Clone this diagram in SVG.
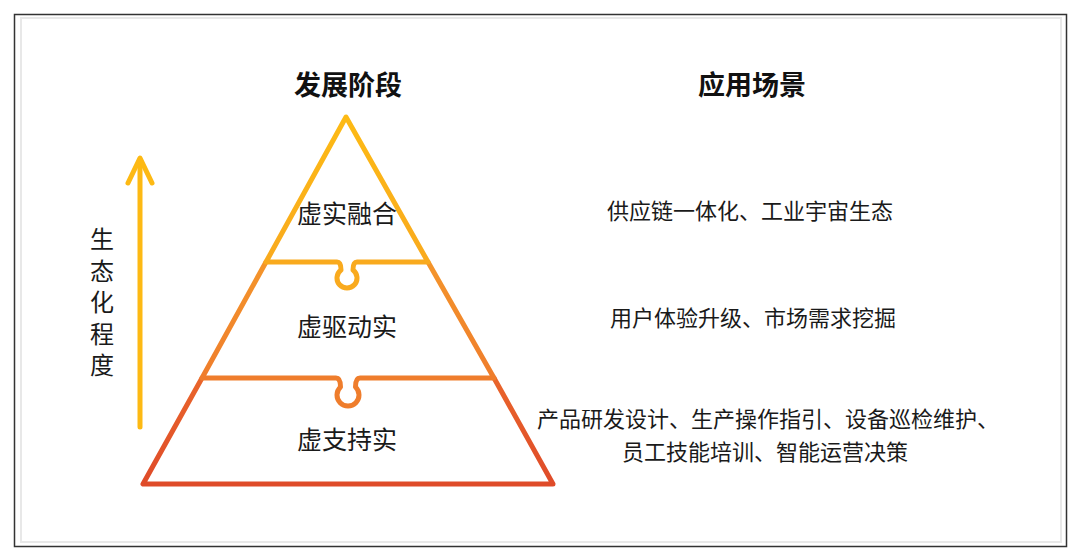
<svg xmlns="http://www.w3.org/2000/svg" width="1080" height="560" viewBox="0 0 1080 560">
  <defs>
    <linearGradient id="gTop" gradientUnits="userSpaceOnUse" x1="0" y1="117" x2="0" y2="262">
      <stop offset="0" stop-color="#FDBA14"/>
      <stop offset="1" stop-color="#F9AA1E"/>
    </linearGradient>
    <linearGradient id="gMid" gradientUnits="userSpaceOnUse" x1="0" y1="262" x2="0" y2="378">
      <stop offset="0" stop-color="#F4952B"/>
      <stop offset="1" stop-color="#EF7D2C"/>
    </linearGradient>
    <linearGradient id="gBot" gradientUnits="userSpaceOnUse" x1="0" y1="378" x2="0" y2="484">
      <stop offset="0" stop-color="#E9652B"/>
      <stop offset="1" stop-color="#DF4B29"/>
    </linearGradient>
    <style>
      .piece { fill: none; stroke-width: 5; stroke-linejoin: round; stroke-linecap: round; }
      .title { font-family: "Noto Sans CJK SC", "Noto Sans", sans-serif; font-weight: 700; font-size: 27px; fill: #111; text-anchor: middle; }
      .layer { font-family: "Noto Sans CJK SC", "Noto Sans", sans-serif; font-size: 25px; fill: #1a1a1a; text-anchor: middle; }
      .scene { font-family: "Noto Sans CJK SC", "Noto Sans", sans-serif; font-size: 22px; fill: #1a1a1a; text-anchor: middle; }
      .axis { font-family: "Noto Sans CJK SC", "Noto Sans", sans-serif; font-size: 24px; fill: #1a1a1a; writing-mode: vertical-rl; letter-spacing: 7.5px; }
      .arrow { fill: none; stroke: #FDB913; stroke-width: 5; stroke-linecap: round; stroke-linejoin: round; }
    </style>
  </defs>

  <rect x="0" y="0" width="1080" height="560" fill="#ffffff"/>
  <rect x="14.5" y="14.5" width="1052" height="532" fill="none" stroke="#333333" stroke-width="1.5"/>
  <rect x="21" y="18" width="1040" height="524" fill="none" stroke="#e8e8e8" stroke-width="2"/>

  <g id="title-stage"><text class="title" x="348" y="95">发展阶段</text></g>
  <g id="title-scene"><text class="title" x="752" y="95">应用场景</text></g>

  <g id="layer-bottom">
    <path class="piece" stroke="url(#gBot)" d="M202,378 L143,484 L553,484 L494,378"/>
    <text class="layer" x="347" y="449">虚支持实</text>
  </g>
  <g id="layer-mid">
    <path class="piece" stroke="url(#gMid)" d="M266,262 L202,378 H336 Q340.5,378 340.5,387 A11,11 0 1 0 355.5,387 Q355.5,378 360,378 H494 L428,262"/>
    <text class="layer" x="347" y="336">虚驱动实</text>
  </g>
  <g id="layer-top">
    <path class="piece" stroke="url(#gTop)" d="M346,117 L266,262 H337 Q341,262 341,270 A10,10 0 1 0 353,270 Q353,262 357,262 H428 Z"/>
    <text class="layer" x="347" y="223">虚实融合</text>
  </g>

  <g id="scene-top"><text class="scene" x="750" y="219">供应链一体化、工业宇宙生态</text></g>
  <g id="scene-mid"><text class="scene" x="753" y="326">用户体验升级、市场需求挖掘</text></g>
  <g id="scene-bottom">
    <text class="scene"><tspan x="768" y="427">产品研发设计、生产操作指引、设备巡检维护、</tspan><tspan x="765" y="459.5">员工技能培训、智能运营决策</tspan></text>
  </g>

  <g id="axis-label">
    <text class="axis" x="102" y="227">生态化程度</text>
  </g>

  <g id="connectors">
    <path class="arrow" d="M140,427 V160"/>
    <path class="arrow" d="M128,183 L140,158 L152,183"/>
  </g>
</svg>
